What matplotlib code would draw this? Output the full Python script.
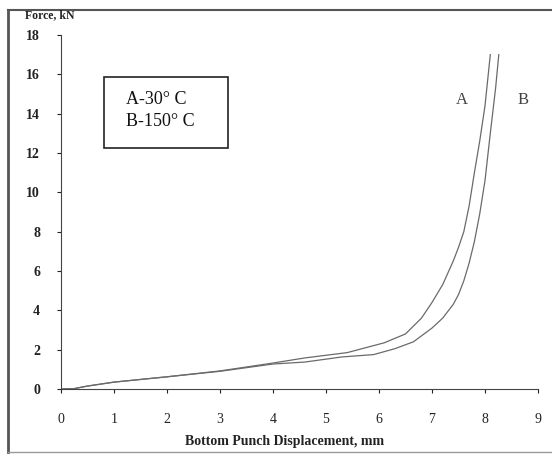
import matplotlib
matplotlib.use("Agg")
import matplotlib.pyplot as plt
from matplotlib.lines import Line2D
from matplotlib.patches import Rectangle

# curve A (30 C)
disp_a = [0, 0.25, 0.5, 1.0, 2.0, 3.0, 4.0, 4.6, 5.4, 6.1, 6.5, 6.8, 6.9, 7.0,
          7.1, 7.2, 7.3, 7.4, 7.5, 7.6, 7.7, 7.8, 7.9, 8.0, 8.1]
force_a = [0, 0.02, 0.15, 0.35, 0.62, 0.92, 1.32, 1.58, 1.85, 2.35, 2.8, 3.6,
           4.0, 4.4, 4.85, 5.3, 5.9, 6.5, 7.2, 8.0, 9.3, 11.0, 12.6, 14.4, 17.0]

# curve B (150 C)
disp_b = [0, 0.25, 0.5, 1.0, 2.0, 3.0, 4.0, 4.6, 5.3, 5.9, 6.3, 6.65, 7.0, 7.2,
          7.4, 7.5, 7.6, 7.7, 7.8, 7.9, 8.0, 8.1, 8.2, 8.26]
force_b = [0, 0.02, 0.15, 0.35, 0.62, 0.9, 1.27, 1.37, 1.63, 1.75, 2.05, 2.4,
           3.1, 3.6, 4.3, 4.8, 5.5, 6.4, 7.5, 8.9, 10.6, 13.0, 15.3, 17.0]

x_ticks = list(range(0, 10))
y_ticks = list(range(0, 19, 2))

plt.rcParams['font.family'] = ['Liberation Serif', 'DejaVu Serif']

fig = plt.figure(figsize=(5.52, 4.54), dpi=100)
ax = fig.add_axes([61 / 552, 1 - 389 / 454, 477 / 552, 354 / 454])

line_col = '#6a6a6a'
ax.plot(disp_a, force_a, color=line_col, lw=0.9)
ax.plot(disp_b, force_b, color=line_col, lw=0.9)

ax.set_xlim(0, 9)
ax.set_ylim(0, 18)
ax.set_xticks(x_ticks)
ax.set_yticks(y_ticks)
ax.tick_params(axis='both', direction='out', length=3, width=0.8,
               labelsize=10, colors='#222222')
ax.tick_params(axis='x', pad=14)
ax.tick_params(axis='y', pad=12)
for lbl in ax.get_yticklabels():
    lbl.set_fontweight('bold')

for side in ['top', 'right']:
    ax.spines[side].set_visible(False)
for side in ['left', 'bottom']:
    ax.spines[side].set_color('#444444')
    ax.spines[side].set_linewidth(0.8)

# curve labels
ax.text(7.57, 14.7, 'A', fontsize=12, color='#444444', ha='center', va='center')
ax.text(8.72, 14.7, 'B', fontsize=12, color='#444444', ha='center', va='center')

# legend box
fig.patches.append(Rectangle((104 / 552, 1 - 148 / 454), 124 / 552, 71 / 454,
                             transform=fig.transFigure, fill=False,
                             edgecolor='#222222', lw=1.2))
fig.text(126 / 552, 1 - 100 / 454, 'A-30° C', fontsize=13, color='#111111',
         ha='left', va='center')
fig.text(126 / 552, 1 - 122 / 454, 'B-150° C', fontsize=13, color='#111111',
         ha='left', va='center')

# axis titles
fig.text(25 / 552, 1 - 15 / 454, 'Force, kN', fontsize=8.5, fontweight='bold',
         color='#222222', ha='left', va='center')
fig.text(285 / 552, 1 - 441 / 454, 'Bottom Punch Displacement, mm', fontsize=10,
         fontweight='bold', color='#222222', ha='center', va='center')

# outer frame of the scanned figure
frame_col = '#555555'
fig.lines.append(Line2D([8 / 552, 8 / 552], [1 - 452 / 454, 1 - 10 / 454],
                        transform=fig.transFigure, color=frame_col, lw=2.0))
fig.lines.append(Line2D([8 / 552, 1.0], [1 - 10 / 454, 1 - 10 / 454],
                        transform=fig.transFigure, color=frame_col, lw=1.5))
fig.lines.append(Line2D([8 / 552, 1.0], [1 - 452 / 454, 1 - 452 / 454],
                        transform=fig.transFigure, color='#999999', lw=1.0))

fig.savefig('out.png', dpi=100)
